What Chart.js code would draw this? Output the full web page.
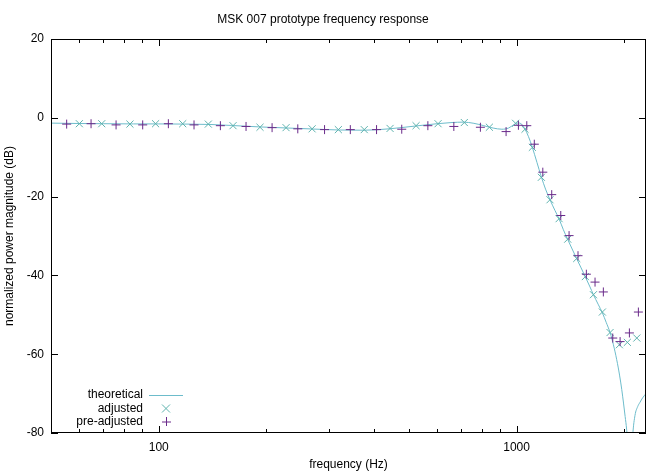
<!DOCTYPE html>
<html>
<head>
<meta charset="utf-8">
<script src="https://cdn.jsdelivr.net/npm/chart.js@4.4.1/dist/chart.umd.min.js"></script>
<style>
  html, body { margin: 0; padding: 0; background: #fff; }
  canvas { display: block; }
</style>
</head>
<body>
<canvas id="msk-response" width="665" height="474"></canvas>
<script>
// theoretical response (Hz, dB)
const theoFreq = [50, 60, 70, 85, 100, 120, 140, 160, 190, 230, 270, 320, 375, 440, 520, 600, 660, 710, 760, 810, 860, 910, 950, 985, 1012, 1035, 1056, 1080, 1107, 1140, 1173, 1205, 1240, 1280, 1315, 1350, 1390, 1430, 1473, 1515, 1557, 1600, 1640, 1690, 1737, 1780, 1825, 1865, 1905, 1940, 1968, 1990, 2011, 2030, 2045, 2060, 2072, 2088, 2100, 2112, 2143, 2180, 2213, 2250, 2300];
const theoDb = [-1.35, -1.45, -1.5, -1.55, -1.55, -1.6, -1.7, -1.95, -2.3, -2.6, -2.85, -3.1, -3.15, -2.8, -2.1, -1.5, -1.2, -1.1, -1.4, -2.0, -2.6, -2.9, -2.6, -1.7, -1.3, -1.7, -2.9, -4.8, -7.5, -11.3, -15.0, -18.1, -20.8, -23.5, -25.7, -28.3, -30.9, -33.3, -35.8, -38.1, -40.4, -42.7, -44.9, -47.3, -49.5, -51.9, -54.5, -57.6, -61.4, -65.3, -69, -72.4, -75.8, -79, -83, -90, -105, -92, -85, -80.5, -75.5, -73.3, -72.2, -71.1, -70];

// adjusted measurements
const adjFreq = [60, 69.3, 83.1, 98, 116.7, 137.6, 161.3, 191.9, 226.9, 268.3, 317.7, 375.3, 443.1, 523.8, 603.4, 714.5, 839.5, 993.6, 1056, 1107, 1173, 1240, 1315, 1390, 1473, 1557, 1640, 1737, 1825, 1938, 2040, 2168];
const adjDb = [-1.5, -1.5, -1.6, -1.5, -1.5, -1.6, -2.0, -2.4, -2.5, -2.8, -3.0, -3.0, -2.7, -2.0, -1.5, -1.2, -2.4, -1.4, -2.9, -7.5, -15.1, -20.8, -25.6, -30.8, -35.7, -40.3, -44.9, -49.3, -54.5, -57.6, -57.0, -55.9];

// pre-adjusted measurements
const preFreq = [55.3, 64.7, 76, 90.2, 106.4, 125.5, 148.7, 175.4, 207.4, 244.7, 290.7, 343.1, 406.2, 477.7, 565.1, 667.9, 792.4, 934.8, 1012, 1068, 1121, 1184, 1254, 1329, 1402, 1485, 1567, 1657, 1748, 1857, 1947, 2067, 2190];
const preDb = [-1.6, -1.5, -1.8, -1.8, -1.5, -1.8, -2.0, -2.2, -2.5, -2.8, -3.0, -3.0, -3.0, -2.9, -2.0, -2.2, -2.4, -3.5, -1.9, -2.0, -6.7, -13.8, -19.5, -24.8, -29.9, -35.0, -39.7, -41.7, -44.2, -55.9, -56.8, -54.6, -49.3];

const xMajorTicks = [100, 1000];
const xMinorTicks = [60, 70, 80, 90, 200, 300, 400, 500, 600, 700, 800, 900, 2000];
const yTicks = [20, 0, -20, -40, -60, -80];

const FONT = "'Liberation Sans', Arial, sans-serif";
const lineColor = "#6dbccb";
const adjColor = "#5fb3ae";
const preColor = "#6a2a8a";

function pairs(xs, ys) {
  return xs.map((x, i) => ({ x: x, y: ys[i] }));
}

// gnuplot style border with inward ticks on all four sides
const frame = {
  id: "frame",
  afterDatasetsDraw(chart) {
    const ctx = chart.ctx;
    const a = chart.chartArea;
    const xs = chart.scales.x;
    const ys = chart.scales.y;
    ctx.save();
    ctx.strokeStyle = "#000";
    ctx.lineWidth = 1;
    ctx.beginPath();
    const tick = (v, len) => {
      const px = Math.round(xs.getPixelForValue(v)) + 0.5;
      ctx.moveTo(px, a.bottom); ctx.lineTo(px, a.bottom - len);
      ctx.moveTo(px, a.top); ctx.lineTo(px, a.top + len);
    };
    xMajorTicks.forEach((v) => tick(v, 7));
    xMinorTicks.forEach((v) => tick(v, 4));
    yTicks.forEach((v) => {
      const py = Math.round(ys.getPixelForValue(v)) + 0.5;
      ctx.moveTo(a.left, py); ctx.lineTo(a.left + 7, py);
      ctx.moveTo(a.right, py); ctx.lineTo(a.right - 7, py);
    });
    ctx.stroke();
    ctx.strokeRect(a.left + 0.5, a.top + 0.5, a.right - a.left - 1, a.bottom - a.top - 1);
    ctx.restore();
  },
  afterDraw(chart) {
    // key, bottom left, text right aligned with sample to the right
    const ctx = chart.ctx;
    const rows = [395, 408.5, 421.5];
    const names = chart.data.datasets.map((d) => d.label);
    ctx.save();
    ctx.font = "12px " + FONT;
    ctx.fillStyle = "#000";
    ctx.textAlign = "right";
    ctx.textBaseline = "middle";
    names.forEach((n, i) => ctx.fillText(n, 143, rows[i]));
    ctx.lineWidth = 1;
    ctx.strokeStyle = lineColor;
    ctx.beginPath();
    ctx.moveTo(149, rows[0] + 0.5); ctx.lineTo(183, rows[0] + 0.5);
    ctx.stroke();
    ctx.strokeStyle = adjColor;
    ctx.beginPath();
    ctx.moveTo(162, rows[1] - 4); ctx.lineTo(170, rows[1] + 4);
    ctx.moveTo(170, rows[1] - 4); ctx.lineTo(162, rows[1] + 4);
    ctx.stroke();
    ctx.strokeStyle = preColor;
    ctx.beginPath();
    ctx.moveTo(166.5, rows[2] - 4.5); ctx.lineTo(166.5, rows[2] + 4.5);
    ctx.moveTo(162, rows[2] + 0.5); ctx.lineTo(171, rows[2] + 0.5);
    ctx.stroke();
    ctx.restore();
  },
};

const config = {
  type: "scatter",
  data: {
    datasets: [
      {
        label: "theoretical",
        data: pairs(theoFreq, theoDb),
        showLine: true,
        borderColor: lineColor,
        borderWidth: 1,
        pointRadius: 0,
        cubicInterpolationMode: "monotone",
        order: 3,
      },
      {
        label: "adjusted",
        data: pairs(adjFreq, adjDb),
        pointStyle: "crossRot",
        pointRadius: 5,
        borderColor: adjColor,
        backgroundColor: adjColor,
        pointBorderWidth: 1,
        order: 2,
      },
      {
        label: "pre-adjusted",
        data: pairs(preFreq, preDb),
        pointStyle: "cross",
        pointRadius: 4.5,
        borderColor: preColor,
        backgroundColor: preColor,
        pointBorderWidth: 1,
        order: 1,
      },
    ],
  },
  options: {
    responsive: false,
    animation: false,
    devicePixelRatio: 1,
    layout: { padding: { left: 0, right: 19, top: 0, bottom: 0 } },
    plugins: {
      legend: { display: false },
      tooltip: { enabled: false },
      title: {
        display: true,
        text: "MSK 007 prototype frequency response",
        color: "#000",
        font: { family: FONT, size: 12, weight: "normal" },
        padding: { top: 12, bottom: 12.6 },
      },
    },
    scales: {
      x: {
        type: "logarithmic",
        min: 50,
        max: 2300,
        grid: { display: false, drawTicks: false },
        border: { display: false },
        afterFit: (scale) => { scale.height = 41; },
        ticks: {
          autoSkip: false,
          maxRotation: 0,
          padding: 7,
          color: "#000",
          font: { family: FONT, size: 12 },
          callback: (val) => (xMajorTicks.includes(val) ? String(val) : ""),
        },
        title: {
          display: true,
          text: "frequency (Hz)",
          color: "#000",
          font: { family: FONT, size: 12 },
          padding: { top: 0, bottom: 2 },
        },
      },
      y: {
        type: "linear",
        min: -80,
        max: 20,
        grid: { display: false, drawTicks: false },
        border: { display: false },
        afterFit: (scale) => { scale.width = 51; },
        ticks: {
          stepSize: 20,
          padding: 7,
          color: "#000",
          font: { family: FONT, size: 12 },
        },
        title: {
          display: true,
          text: "normalized power magnitude (dB)",
          color: "#000",
          font: { family: FONT, size: 12 },
          padding: { top: 2, bottom: 0 },
        },
      },
    },
  },
  plugins: [frame],
};

window.addEventListener("load", function () {
  const ctx = document.getElementById("msk-response");
  new Chart(ctx, config);
});
</script>
</body>
</html>
